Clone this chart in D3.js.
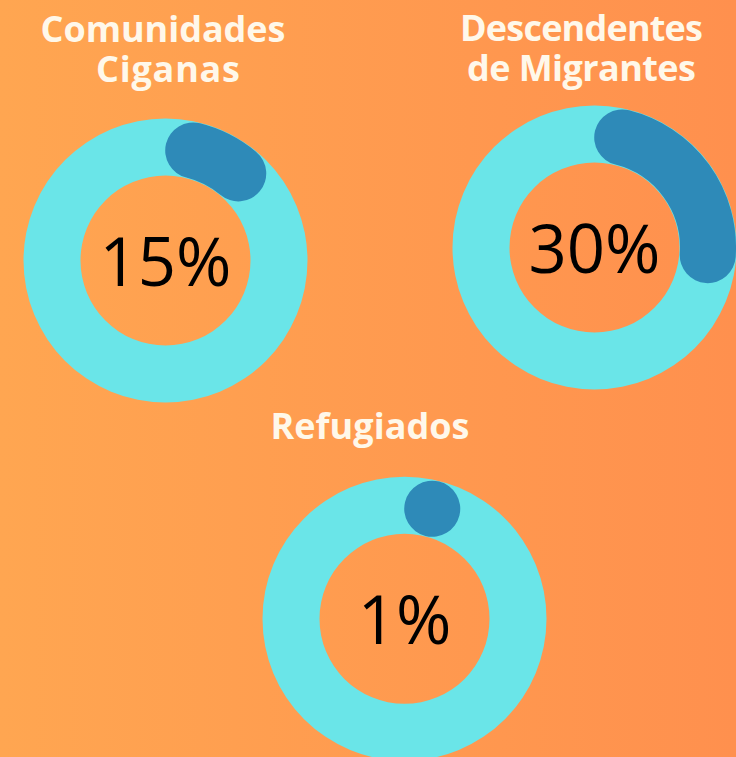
<!DOCTYPE html>
<html>
<head>
<meta charset="utf-8">
<script src="https://cdn.jsdelivr.net/npm/d3@7"></script>
<style>
  html, body { margin: 0; padding: 0; }
  body { width: 736px; height: 757px; overflow: hidden; }
</style>
</head>
<body>
<svg id="chart" width="736" height="757"></svg>
<script>
// ---- data ----
const categories = ["Comunidades Ciganas", "Descendentes de Migrantes", "Refugiados"];
const titleLines = [["Comunidades", "Ciganas"], ["Descendentes", "de Migrantes"], ["Refugiados"]];
const values = [15, 30, 1];          // percent
const valueLabels = ["15%", "30%", "1%"];

// ---- layout ----
const W = 736, H = 757;
const centers = [[165.5, 260.5], [594.5, 247.5], [404.5, 618.8]];
const titleY = [[42, 82], [41, 81], [439]];
const titleX = [[163, 168], [581.5, 581.5], [370]];
const titleW = [[245, 144], [243, 229], [199]];
const rOuter = 142, rInner = 85;
const trackR = 113.5, trackW = 56;

const svg = d3.select("#chart");
const defs = svg.append("defs");
const grad = defs.append("linearGradient").attr("id", "bg").attr("x1", "0%").attr("x2", "100%").attr("y1", "0%").attr("y2", "0%");
grad.append("stop").attr("offset", "0%").attr("stop-color", "#FFA651");
grad.append("stop").attr("offset", "100%").attr("stop-color", "#FF904E");
svg.append("rect").attr("width", W).attr("height", H).attr("fill", "url(#bg)");

const angle = d3.scaleLinear().domain([0, 100]).range([0, 2 * Math.PI]);
const ringArc = d3.arc().innerRadius(rInner).outerRadius(rOuter).startAngle(0).endAngle(2 * Math.PI);
const capA = (trackW / 2) / trackR;

values.forEach((v, i) => {
  const [cx, cy] = centers[i];
  const g = svg.append("g").attr("transform", `translate(${cx},${cy})`);
  g.append("path").attr("d", ringArc()).attr("fill", "#6AE5E8");

  const a0 = capA;
  const a1 = Math.max(a0 + 0.0005, angle(v) - capA);
  const p = d3.path();
  p.arc(0, 0, trackR, a0 - Math.PI / 2, a1 - Math.PI / 2, false);
  g.append("path").attr("d", p.toString())
    .attr("fill", "none").attr("stroke", "#2E8AB8")
    .attr("stroke-width", trackW).attr("stroke-linecap", "round");

  g.append("text").attr("x", 0).attr("y", 25)
    .attr("text-anchor", "middle")
    .attr("font-family", "'Open Sans', 'Noto Sans', sans-serif")
    .attr("font-size", 67)
    .attr("fill", "#000")
    .text(valueLabels[i]);

  const title = svg.append("text")
    .attr("text-anchor", "middle")
    .attr("font-family", "'Open Sans', 'Noto Sans', sans-serif")
    .attr("font-weight", 700)
    .attr("font-size", 36)
    .attr("fill", "#FFF8EA");
  titleLines[i].forEach((line, j) => {
    const t = title.append("tspan")
      .attr("x", titleX[i][j]).attr("y", titleY[i][j])
      .text(line);
    const cur = t.node().getComputedTextLength();
    const extra = (titleW[i][j] - cur) / Math.max(1, line.length - 1);
    t.attr("letter-spacing", extra.toFixed(2));
    t.attr("x", titleX[i][j] + extra / 2);
  });
});
</script>
</body>
</html>
